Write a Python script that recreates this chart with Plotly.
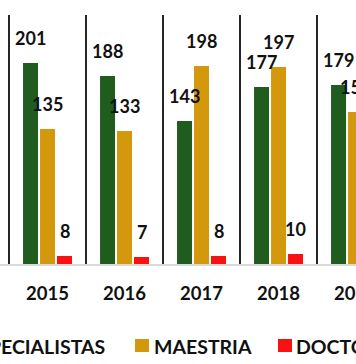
import plotly.graph_objects as go

# ---- data ----
years = ["2015", "2016", "2017", "2018", "2019"]
especialistas = [201, 188, 143, 177, 179]
maestria = [135, 133, 198, 197, 152]
doctorado = [8, 7, 8, 10, None]
series_names = ["ESPECIALISTAS", "MAESTRIA", "DOCTORADO"]
colors = ["#1f5c1e", "#d4980c", "#f81212"]

W, H = 356, 364
ML, MR, MT, MB = 0, 0, 15, 100
PW, PH = W - ML - MR, H - MT - MB
FONT = "Lato"


def px_x(p):
    return (p - ML) / PW


def px_y(p):
    return (H - MB - p) / PH


fig = go.Figure()
all_vals = [especialistas, maestria, doctorado]
for name, vals, c in zip(series_names, all_vals, colors):
    fig.add_trace(go.Bar(x=years, y=vals, name=name,
                         marker=dict(color=c, line=dict(width=0)),
                         showlegend=False))

slot = 17
for i, vals in enumerate(all_vals):
    for j, v in enumerate(vals):
        if v is None:
            continue
        fig.add_annotation(x=j, y=v, xref="x", yref="y", text=str(v),
                           showarrow=False, xshift=(i - 1) * slot, yshift=12,
                           xanchor="center", yanchor="bottom",
                           font=dict(family=FONT, size=18, color="#111111", weight="bold"))

# ---- legend (drawn as text + squares so it can run past the edges like the source) ----
leg_y = px_y(346)
sq_top, sq_bot = px_y(339), px_y(352)
legend_items = [
    (107, "right", -60),
    (152, "left", 135),
    (294, "left", 278),
]
for (tx, side, sq), name, c in zip(legend_items, series_names, colors):
    fig.add_annotation(x=px_x(tx), y=leg_y, xref="paper", yref="paper", text=name,
                       showarrow=False, xanchor=side, yanchor="middle",
                       font=dict(family=FONT, size=19.5, color="#111111", weight="bold"))
    fig.add_shape(type="rect", xref="paper", yref="paper",
                  x0=px_x(sq), x1=px_x(sq + 14), y0=sq_bot, y1=sq_top,
                  fillcolor=c, line=dict(width=0))

fig.update_layout(
    width=W, height=H,
    margin=dict(l=ML, r=MR, t=MT, b=MB, autoexpand=False),
    barmode="group", bargap=0.338, bargroupgap=0.118,
    plot_bgcolor="white", paper_bgcolor="white",
    showlegend=False,
    xaxis=dict(type="category", range=[-0.617, 4.006], tickson="boundaries",
               showgrid=True, gridcolor="#262626", gridwidth=1.5,
               showline=True, linecolor="#d9d9d9", linewidth=2,
               ticks="", ticklabelstandoff=12,
               tickfont=dict(family=FONT, size=18.5, color="#111111", weight="bold")),
    yaxis=dict(range=[0, PH], showgrid=False, zeroline=False,
               showticklabels=False, ticks="", showline=False),
)

fig.write_html("out.html", config={"displayModeBar": False},
               post_script="document.body.style.margin='0';document.body.style.overflow='hidden';")
